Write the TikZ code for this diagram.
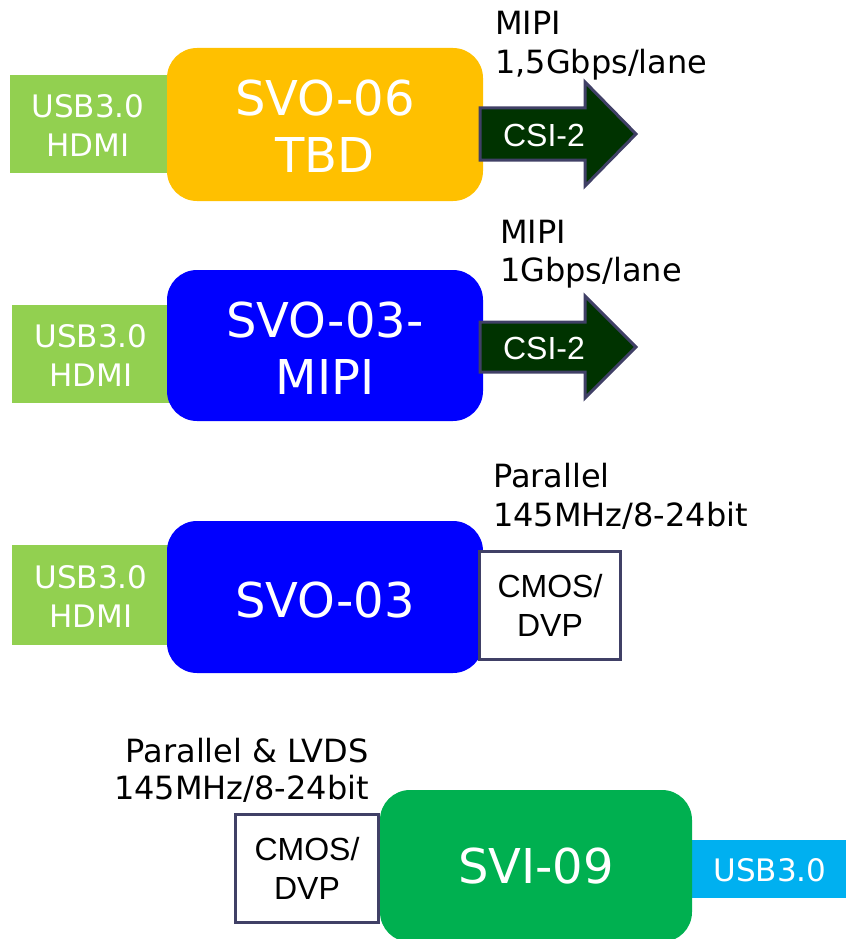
\documentclass[tikz,border=0pt]{standalone}
\usepackage{fontspec}
\setmainfont{DejaVu Sans}
\newfontfamily\arialfont{Liberation Sans}
\definecolor{lgreen}{HTML}{92D050}
\definecolor{orangeb}{HTML}{FFC000}
\definecolor{blueb}{HTML}{0000FF}
\definecolor{greenb}{HTML}{00B050}
\definecolor{cyanb}{HTML}{00B0F0}
\definecolor{darkg}{HTML}{003300}
\definecolor{edgec}{HTML}{404066}
\tikzset{
  portbox/.style={fill=lgreen, draw=none, text=white, align=center, font=\fontsize{31}{39}\selectfont},
  chipbox/.style={rounded corners=30pt, draw=none, text=white, align=center, font=\fontsize{48}{57}\selectfont},
  cmosbox/.style={fill=white, draw=edgec, line width=3pt, align=center, font=\arialfont\fontsize{32}{39}\selectfont},
  arrowshape/.style={fill=darkg, draw=edgec, line width=3pt, line join=miter},
  arrowtext/.style={text=white, font=\arialfont\fontsize{32}{36}\selectfont},
  lbl/.style={font=\fontsize{32}{38}\selectfont, inner sep=0pt}
}
\begin{document}
\begin{tikzpicture}[x=1pt,y=-1pt]
\useasboundingbox (0,0) rectangle (846,939);
% Row 1
\path[portbox] (10,75) rectangle (172,173);
\node[portbox] (p1) at (88,125) {USB3.0\\HDMI};
\path[chipbox, fill=orangeb] (167,48) rectangle (483,201);
\node[chipbox] (c1) at (325,126) {SVO-06\\TBD};
\draw[arrowshape] (480,108) -- (585,108) -- (585,82) -- (636,134) -- (585,186) -- (585,160) -- (480,160) -- cycle;
\node[arrowtext] (a1) at (544,135) {CSI-2};
\node[lbl, anchor=base west] (l1a) at (495,35) {MIPI};
\node[lbl, anchor=base west] (l1b) at (495,74) {1,5Gbps/lane};
% Row 2
\path[portbox] (12,305) rectangle (172,403);
\node[portbox] (p2) at (91,355) {USB3.0\\HDMI};
\path[chipbox, fill=blueb] (167,270) rectangle (483,421);
\node[chipbox] (c2) at (325,348) {SVO-03-\\MIPI};
\draw[arrowshape] (480,322) -- (585,322) -- (585,296) -- (636,347) -- (585,398) -- (585,372) -- (480,372) -- cycle;
\node[arrowtext] (a2) at (544,348) {CSI-2};
\node[lbl, anchor=base west] (l2a) at (500,243) {MIPI};
\node[lbl, anchor=base west] (l2b) at (500,281) {1Gbps/lane};
% Row 3
\path[portbox] (12,545) rectangle (172,645);
\node[portbox] (p3) at (91,596) {USB3.0\\HDMI};
\path[chipbox, fill=blueb] (167,521) rectangle (483,673);
\node[chipbox] (c3) at (325,600) {SVO-03};
\node[cmosbox, minimum width=141pt, minimum height=108pt] (m3) at (550,605) {CMOS/\\DVP};
\node[lbl, anchor=base west] (l3a) at (493,487) {Parallel};
\node[lbl, anchor=base west] (l3b) at (493,526) {145MHz/8-24bit};
% Row 4
\path[fill=cyanb] (690,840) rectangle (846,898);
\node[text=white, font=\fontsize{31}{36}\selectfont] (u4) at (770,870) {USB3.0};
\path[chipbox, fill=greenb] (380,790) rectangle (692,942);
\node[chipbox] (c4) at (536,866) {SVI-09};
\node[cmosbox, minimum width=143pt, minimum height=108pt] (m4) at (307,868) {CMOS/\\DVP};
\node[lbl, anchor=base east] (l4a) at (369,762) {Parallel \& LVDS};
\node[lbl, anchor=base east] (l4b) at (369,799) {145MHz/8-24bit};
\end{tikzpicture}
\end{document}
